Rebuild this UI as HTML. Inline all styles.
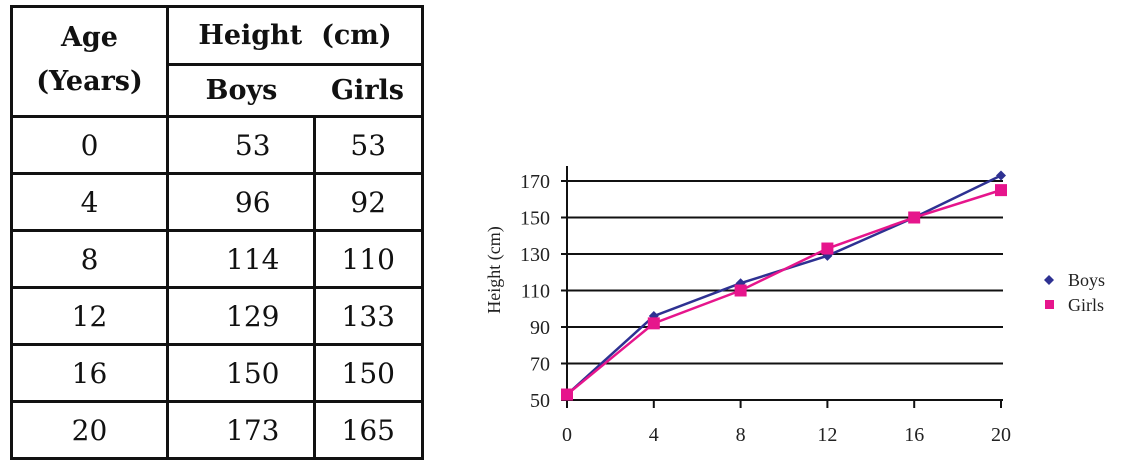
<!DOCTYPE html>
<html><head><meta charset="utf-8"><style>
body{margin:0;background:#fff;width:1128px;height:458px;overflow:hidden;position:relative;font-family:"DejaVu Serif","Liberation Serif",serif;}
table{position:absolute;left:10px;top:5px;border-collapse:collapse;}
td{border:3px solid #111;text-align:center;padding:0;color:#111;}
.h{font-weight:bold;font-size:27px;}
.d{font-size:28px;height:54px;}
.b{padding-left:24px;}
</style></head><body>
<table>
<tr style="height:58px"><td rowspan="2" class="h" style="width:153px;line-height:44px;vertical-align:top;padding-top:8px">Age<br>(Years)</td><td colspan="2" class="h">Height&nbsp; (cm)</td></tr>
<tr style="height:52px"><td class="h" style="width:145px;border-right:none">Boys</td><td class="h" style="width:107px;border-left:none">Girls</td></tr>
<tr><td class="d">0</td><td class="d b">53</td><td class="d">53</td></tr>
<tr><td class="d">4</td><td class="d b">96</td><td class="d">92</td></tr>
<tr><td class="d">8</td><td class="d b">114</td><td class="d">110</td></tr>
<tr><td class="d">12</td><td class="d b">129</td><td class="d">133</td></tr>
<tr><td class="d">16</td><td class="d b">150</td><td class="d">150</td></tr>
<tr><td class="d">20</td><td class="d b">173</td><td class="d">165</td></tr>
</table>
<svg id="chart" width="1128" height="458" style="position:absolute;left:0;top:0" font-family="Liberation Serif, serif"></svg>
<script>
const ages=[0,4,8,12,16,20];
const boys=[53,96,114,129,150,173];
const girls=[53,92,110,133,150,165];
const yTicks=[50,70,90,110,130,150,170];
const NS="http://www.w3.org/2000/svg";
const svg=document.getElementById('chart');
const X=v=>567+(v-0)*(1001-567)/20;
const Y=v=>400-(v-50)*(400-181)/120;
function el(t,a,p){const e=document.createElementNS(NS,t);for(const k in a)e.setAttribute(k,a[k]);(p||svg).appendChild(e);return e;}
yTicks.forEach(t=>{
 const g=el('line',{x1:X(0)-6,x2:1003,y1:Y(t),y2:Y(t),stroke:'#111','stroke-width':2});
 
 
 const l=el('text',{x:550,y:Y(t)+7,'text-anchor':'end','font-size':20,fill:'#222'});l.textContent=t;
 
 
});
el('line',{x1:X(0),x2:X(0),y1:166,y2:408,stroke:'#111','stroke-width':2});
ages.forEach(a=>{
 el('line',{x1:X(a),x2:X(a),y1:400,y2:408,stroke:'#111','stroke-width':2});
 const l=el('text',{x:X(a),y:441,'text-anchor':'middle','font-size':20,fill:'#222'});l.textContent=a;
 
 
});
const yt=el('text',{x:0,y:0,transform:'translate(500,270) rotate(-90)','text-anchor':'middle','font-size':18,fill:'#222'});yt.textContent='Height (cm)';


const lb=el('polyline',{points:ages.map((a,i)=>X(a)+','+Y(boys[i])).join(' '),fill:'none',stroke:'#2e3192','stroke-width':2.5});


const lg=el('polyline',{points:ages.map((a,i)=>X(a)+','+Y(girls[i])).join(' '),fill:'none',stroke:'#e6158c','stroke-width':2.5});


ages.forEach((a,i)=>{
 const x=X(a),y=Y(boys[i]);
 const d=el('polygon',{points:`${x},${y-5} ${x+5},${y} ${x},${y+5} ${x-5},${y}`,fill:'#2e3192'});
 
 
});
ages.forEach((a,i)=>{
 const s=el('rect',{x:X(a)-6,y:Y(girls[i])-6,width:12,height:12,fill:'#e6158c'});
 
 
});
const ld=el('polygon',{points:'1049,275 1054,280 1049,285 1044,280',fill:'#2e3192'});


const lt1=el('text',{x:1068,y:286,'font-size':18,fill:'#222'});lt1.textContent='Boys';


const ls=el('rect',{x:1045,y:300,width:9,height:9,fill:'#e6158c'});


const lt2=el('text',{x:1068,y:311,'font-size':18,fill:'#222'});lt2.textContent='Girls';


</script>
</body></html>
